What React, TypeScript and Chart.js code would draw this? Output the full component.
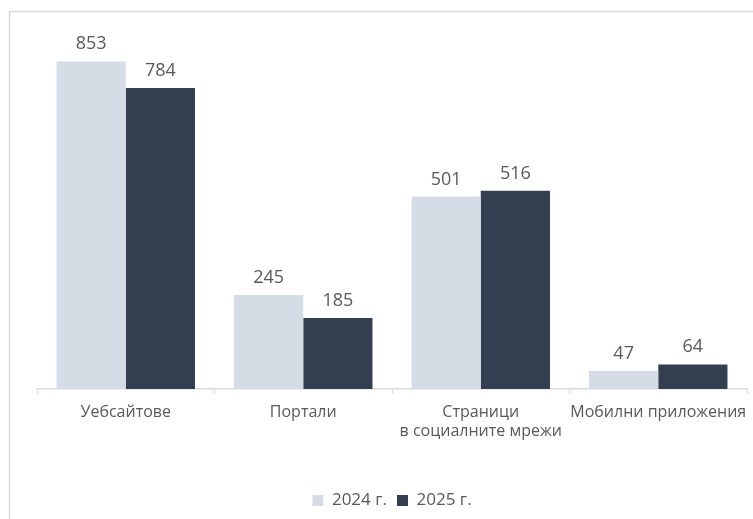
import React, { useEffect, useRef } from "react";
import { Chart, registerables } from "chart.js";

Chart.register(...registerables);

const categories: (string | string[])[] = [
  "Уебсайтове",
  "Портали",
  ["Страници", "в социалните мрежи"],
  "Мобилни приложения",
];
const seriesNames = ["2024 г.", "2025 г."];
const values2024 = [853, 245, 501, 47];
const values2025 = [784, 185, 516, 64];

const FONT = "'Open Sans', 'Noto Sans', sans-serif";
const TEXT = "#595959";

export default function App() {
  const ref = useRef<HTMLCanvasElement | null>(null);

  useEffect(() => {
    if (!ref.current) return;
    const borderPlugin = {
      id: "frame",
      beforeDraw(chart: any) {
        const ctx = chart.ctx;
        ctx.save();
        ctx.strokeStyle = "#d9d9d9";
        ctx.lineWidth = 1.5;
        ctx.beginPath();
        ctx.moveTo(9.5, chart.height);
        ctx.lineTo(9.5, 11.5);
        ctx.lineTo(chart.width, 11.5);
        ctx.stroke();
        ctx.restore();
      },
    };
    const labelPlugin = {
      id: "valueLabels",
      afterDatasetsDraw(chart: any) {
        const ctx = chart.ctx;
        ctx.save();
        ctx.font = `18px ${FONT}`;
        ctx.fillStyle = TEXT;
        ctx.textAlign = "center";
        ctx.textBaseline = "alphabetic";
        chart.data.datasets.forEach((ds: any, i: number) => {
          const meta = chart.getDatasetMeta(i);
          meta.data.forEach((bar: any, j: number) => {
            ctx.fillText(String(ds.data[j]), bar.x, bar.y - 12);
          });
        });
        ctx.restore();
      },
    };
    const chart = new Chart(ref.current, {
      type: "bar",
      data: {
        labels: categories,
        datasets: [
          {
            label: seriesNames[0],
            data: values2024,
            backgroundColor: "#D6DCE5",
            categoryPercentage: 0.78,
            barPercentage: 1,
          },
          {
            label: seriesNames[1],
            data: values2025,
            backgroundColor: "#333F50",
            categoryPercentage: 0.78,
            barPercentage: 1,
          },
        ],
      },
      options: {
        animation: false,
        responsive: false,
        maintainAspectRatio: false,
        layout: { padding: { left: 37, right: 6, top: 5, bottom: 0 } },
        plugins: {
          legend: {
            position: "bottom",
            labels: {
              boxWidth: 11,
              boxHeight: 11,
              color: TEXT,
              font: { family: FONT, size: 17 },
              padding: 10,
            },
          },
          tooltip: { enabled: false },
        },
        scales: {
          x: {
            grid: {
              offset: true,
              drawOnChartArea: false,
              drawTicks: true,
              tickLength: 5,
              color: "#d9d9d9",
            },
            border: { color: "#d9d9d9", width: 1.5 },
            ticks: {
              color: TEXT,
              font: { family: FONT, size: 16 },
              padding: 9,
              maxRotation: 0,
              autoSkip: false,
            },
            afterFit(scale: any) {
              scale.height = 93;
              scale.paddingLeft = 0;
              scale.paddingRight = 0;
            },
          },
          y: {
            display: false,
            min: 0,
            max: 1000,
          },
        },
      },
      plugins: [borderPlugin, labelPlugin],
    });
    return () => chart.destroy();
  }, []);

  return (
    <div style={{ position: "absolute", left: 0, top: 0, width: 753, height: 519 }}>
      <canvas ref={ref} width={753} height={519} style={{ width: 753, height: 519, display: "block" }} />
    </div>
  );
}
